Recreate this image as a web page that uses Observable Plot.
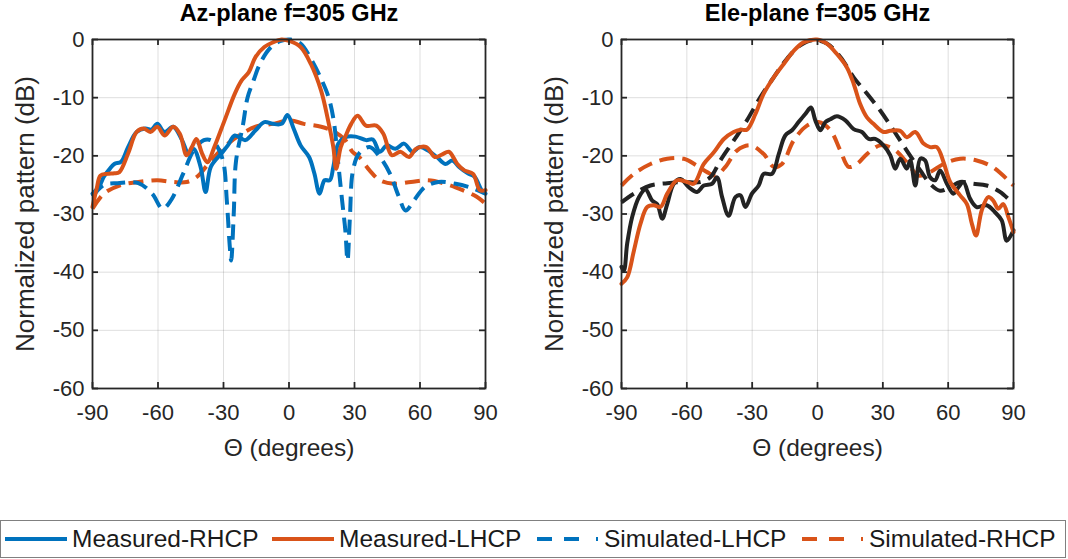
<!DOCTYPE html>
<html>
<head>
<meta charset="utf-8">
<script src="https://cdn.jsdelivr.net/npm/d3@7"></script>
<script src="https://cdn.jsdelivr.net/npm/@observablehq/plot@0.6"></script>
<style>
  html, body { margin: 0; padding: 0; background: #fff; }
  #fig { position: relative; width: 1068px; height: 559px; overflow: hidden; background: #fff;
         font-family: "Liberation Sans", Arial, sans-serif; color: #262626; }
  .panel { position: absolute; top: 0; }
  #legend { position: absolute; left: 0px; top: 520px; width: 1064px; height: 36px;
            border: 1.5px solid #808080; background: #fff; }
  .item { position: absolute; top: 0; height: 36px; display: flex; align-items: center; }
  .item span { font-size: 24.5px; color: #1a1a1a; margin-left: 5px; white-space: nowrap; }
</style>
</head>
<body>
<div id="fig">
  <div id="left" class="panel" style="left:0px"></div>
  <div id="right" class="panel" style="left:534px"></div>
  <div id="legend"></div>
</div>
<script>
// ---- ticks ----
const xTicks = [-90, -60, -30, 0, 30, 60, 90];
const yTicks = [0, -10, -20, -30, -40, -50, -60];

// ---- titles / labels ----
const titles = ["Az-plane f=305 GHz", "Ele-plane f=305 GHz"];
const xLabel = "\u0398 (degrees)";
const yLabel = "Normalized pattern (dB)";
const seriesNames = ["Measured-RHCP", "Measured-LHCP", "Simulated-LHCP", "Simulated-RHCP"];

// ---- Az-plane data [theta, dB] ----
const azMeasRHCP = [[-90,-26.5],[-87,-25.3],[-84.8,-23.6],[-82,-22.2],[-80,-21.4],[-76.9,-21],[-73.7,-18.5],[-69.8,-15.9],[-65.8,-15.3],[-63,-15.5],[-60.3,-14.5],[-57,-15.9],[-53,-15],[-49,-17.3],[-46,-19.6],[-43.7,-18.8],[-40.5,-21.9],[-38.2,-26.2],[-35.8,-21.9],[-31,-19.6],[-28,-18.2],[-24.8,-16.5],[-20,-17.3],[-15.3,-15.6],[-11.3,-14.2],[-7.4,-14.5],[-3.4,-14.5],[-0.7,-13],[2.1,-15.3],[5.3,-18.2],[9.2,-20.2],[11.6,-23],[14,-26.5],[16.3,-24.2],[18.7,-24.2],[20.3,-21.9],[22.6,-17.9],[25.8,-16.8],[30.5,-16.7],[35.3,-17.3],[38.4,-17.2],[41.6,-19.3],[44.8,-18.2],[48.7,-18.8],[52.7,-17.9],[56.6,-19.3],[59.8,-18.5],[63.7,-19.1],[67.7,-20.2],[71.6,-21.4],[74.8,-20.8],[77.9,-21.9],[81.9,-23],[85,-23.6],[88.2,-25.9],[90,-26.5]];
const azMeasLHCP = [[-90,-28.8],[-88,-25.5],[-86.4,-23.4],[-83.2,-23.1],[-80,-23],[-77.7,-22.8],[-73.7,-19.6],[-69.8,-15.9],[-66.6,-15.3],[-63.5,-15.9],[-60.3,-15],[-57,-16.5],[-53,-15],[-50,-16.2],[-46.9,-19.9],[-44.5,-18.5],[-42.4,-17.1],[-39.8,-19.6],[-37.4,-21.1],[-34.2,-18.5],[-29.5,-13.9],[-24.8,-9.3],[-21.6,-7],[-18.4,-5.6],[-15.3,-3],[-11.3,-1.3],[-7.4,-0.5],[-3.4,0],[0.5,-0.3],[5.3,-1.3],[10,-4.2],[14.7,-8.8],[17.9,-13.9],[20.3,-18.5],[21.6,-22.2],[23.7,-18.5],[26,-16.5],[28.5,-14.5],[31.4,-13.1],[35.3,-14.8],[40,-14.8],[43.2,-16.2],[47.1,-19.9],[51,-19.3],[55,-20.2],[58.2,-18.8],[62.9,-18.5],[66.8,-20.2],[70,-19.8],[73.2,-19.3],[77.1,-21.4],[80.3,-22.5],[84.3,-23.1],[87.4,-25.9],[90,-25.9]];
const azSimLHCP = [[-90,-27],[-84.8,-25],[-78.5,-24.7],[-69,-24.7],[-62.7,-26.5],[-57.9,-29.1],[-54,-27.6],[-48.5,-23.1],[-43.7,-19.1],[-39,-17.3],[-35.8,-17.3],[-32.7,-18.5],[-30,-21.2],[-28.5,-27.6],[-27.1,-35.7],[-26.5,-38],[-25.3,-29.9],[-24.3,-21],[-21,-14.5],[-19,-10],[-16,-6.8],[-13.7,-4.5],[-9,-1.6],[-4.2,-0.3],[0.5,0],[5.3,-0.7],[10,-3.3],[15,-7],[18.2,-10],[20.5,-14],[22.2,-20],[24.3,-27.6],[25.8,-32.8],[26.8,-38],[27.9,-30.5],[29.3,-22.5],[32.1,-19.6],[36.9,-18.5],[41.6,-20.2],[46.3,-23.1],[50.3,-27],[53.4,-29.4],[57.4,-27.6],[62.1,-25.4],[68.4,-24.5],[76.3,-24.8],[84.3,-25.6],[90,-26.5]];
const azSimRHCP = [[-90,-29.1],[-84.8,-26.5],[-76.9,-25],[-69,-24.5],[-60.3,-24.2],[-53,-24.5],[-46.9,-24.5],[-42.1,-23.6],[-37.4,-21.6],[-32.7,-19.6],[-27.9,-17.9],[-21.6,-16.2],[-15.3,-15],[-7.4,-14.5],[0.5,-13.9],[6.8,-14.5],[14.7,-15],[21,-15.9],[25.8,-17.3],[29,-19.3],[32.1,-20.2],[36.9,-22.5],[41.6,-24.2],[47.9,-24.8],[55.8,-24.5],[63.7,-24.2],[71.6,-24.8],[79.5,-25.9],[85.8,-27],[90,-28.2]];

// ---- Ele-plane data [theta, dB] ----
const elMeasRHCP = [[-90,-39.1],[-88.9,-39.7],[-87.4,-35.1],[-85.1,-30.5],[-82,-27.1],[-79,-25.8],[-75.9,-27.7],[-73.6,-28.3],[-71.3,-30.8],[-69,-28.3],[-66,-24.8],[-62.9,-24],[-59.1,-25.4],[-55.3,-26.2],[-52.2,-25.1],[-48.4,-24.8],[-46.1,-23.7],[-43.8,-27.1],[-40.8,-30.3],[-37.7,-27.1],[-35.4,-26.8],[-33.1,-28.8],[-30.1,-26.5],[-27,-25.1],[-24.7,-23.1],[-20.9,-23.1],[-17.8,-19.7],[-14.8,-16.5],[-11.7,-15.6],[-8.7,-14.2],[-5.6,-12.8],[-3,-11.7],[-1,-13.9],[1.3,-15.6],[3.6,-14.2],[5.9,-13.7],[8.9,-13.2],[12.8,-13.9],[16.6,-15.4],[20.4,-15.9],[23.5,-17.1],[26.5,-17.1],[30.3,-18.2],[33.4,-19.9],[35.7,-22.2],[38,-20.5],[41,-22.2],[42.6,-20.8],[44.9,-25.1],[47.2,-20.5],[49.4,-20.8],[51.7,-23.7],[54,-24.2],[56.3,-22.5],[59.4,-24.8],[62.4,-26.5],[64.7,-25.4],[67,-24.5],[70.1,-27.4],[73.1,-28.8],[77.7,-28.5],[81.5,-29.7],[84.6,-31.1],[86.9,-34.6],[90,-32.8]];
const elMeasLHCP = [[-90,-42],[-87.4,-40.9],[-84.3,-36.3],[-81.3,-31.7],[-78.2,-28.8],[-75.2,-28.5],[-72.1,-28.8],[-69,-26.5],[-64.5,-24.2],[-59.9,-24.5],[-56.8,-24.8],[-52.2,-21.4],[-47.6,-19.4],[-43,-17.1],[-38.5,-15.9],[-35.4,-15.5],[-32.4,-15.5],[-28.5,-12.8],[-24.7,-9.3],[-20.1,-6.5],[-15.5,-4.2],[-11,-2],[-6.4,-0.5],[-0.2,0],[4.3,-0.7],[8.9,-2.5],[13.5,-4.8],[16.6,-7.6],[19.6,-11.1],[22.7,-13.4],[25.7,-14.5],[30.3,-15.9],[33.4,-15.7],[38,-15.7],[41,-16.8],[44.9,-15.9],[48.7,-17.9],[51.7,-18.5],[54.8,-18.5],[57.9,-21.1],[60.9,-24.5],[65.5,-26.8],[68.6,-28.3],[70.9,-31.7],[72.8,-33.7],[75.4,-29.4],[78.4,-27.1],[80.7,-27.7],[83,-29.1],[85.3,-28.3],[87.6,-30.5],[90,-33.1]];
const elSimLHCP = [[-90,-28],[-84.3,-26.5],[-76.7,-25.1],[-69,-24.7],[-61.4,-24.5],[-53.8,-24.5],[-49.2,-23.7],[-44.6,-20.8],[-38.5,-17.4],[-32.4,-13.9],[-26.2,-9.9],[-20.1,-6.5],[-14,-3.3],[-7.9,-1],[-1.8,-0.1],[4.3,-0.7],[10.5,-3],[16.6,-6.5],[22.7,-9.3],[28.8,-12.2],[34.9,-15.6],[41,-19.1],[47.2,-22.5],[51.7,-24.8],[56.3,-26],[60.9,-25.4],[65.5,-24.5],[71.6,-24.8],[77.7,-25.1],[83.8,-26.2],[90,-28.3]];
const elSimRHCP = [[-90,-25.1],[-84.3,-23.1],[-76.7,-21.4],[-69,-20.5],[-61.4,-20.5],[-55.3,-21.7],[-50.7,-22.8],[-46.9,-23.4],[-42.3,-21.9],[-37,-19.1],[-30.8,-18.2],[-24.7,-19.7],[-20.1,-21.9],[-16.3,-21.4],[-11,-17.4],[-4.8,-14.8],[0.5,-14.2],[5.9,-15.6],[10.5,-19.1],[14.3,-21.9],[18.1,-21.4],[22.7,-19.7],[28.8,-18.2],[34.9,-18.8],[41,-21.1],[46.4,-23.4],[51.7,-22.8],[57.9,-21.4],[65.5,-20.5],[73.1,-20.8],[80.3,-21.9],[90,-25.1]];

// ---- colours ----
const BLUE = "#0072BD", ORANGE = "#D95319", BLACK = "#232323", AXIS = "#262626";

const W = 534, H = 470, MT = 39, MB = 82;
const innerH = H - MT - MB;
const LW = 4, DASH = "15,8";

function panel({title, series, marginLeft, marginRight}) {
  const innerW = W - marginLeft - marginRight;
  const fmt = d => String(d);
  const lines = series.map(s => Plot.line(s.data, {
    x: d => d[0], y: d => d[1], stroke: s.color, strokeWidth: LW,
    strokeDasharray: s.dash ? DASH : null,
    strokeLinecap: s.dash ? "butt" : "round", curve: "catmull-rom"
  }));
  return Plot.plot({
    width: W, height: H, marginLeft, marginRight, marginTop: MT, marginBottom: MB,
    style: {fontFamily: "'Liberation Sans', Arial, sans-serif", fontSize: "22px", color: AXIS, background: "white", overflow: "visible"},
    x: {domain: [-90, 90]},
    y: {domain: [-60, 0]},
    marks: [
      Plot.gridX(xTicks, {stroke: AXIS, strokeOpacity: 0.15, strokeWidth: 1}),
      Plot.gridY(yTicks, {stroke: AXIS, strokeOpacity: 0.15, strokeWidth: 1}),
      ...lines,
      Plot.frame({stroke: AXIS, strokeWidth: 1.8}),
      Plot.tickX(xTicks, {x: d => d, insetTop: innerH - 6, stroke: AXIS, strokeWidth: 1.8}),
      Plot.tickX(xTicks, {x: d => d, insetBottom: innerH - 6, stroke: AXIS, strokeWidth: 1.8}),
      Plot.tickY(yTicks, {y: d => d, insetRight: innerW - 6, stroke: AXIS, strokeWidth: 1.8}),
      Plot.tickY(yTicks, {y: d => d, insetLeft: innerW - 6, stroke: AXIS, strokeWidth: 1.8}),
      Plot.axisX(xTicks, {tickSize: 0, tickPadding: 16, tickFormat: fmt, label: null, fontSize: 22}),
      Plot.axisY(yTicks, {tickSize: 0, tickPadding: 8, tickFormat: fmt, label: null, fontSize: 22}),
      Plot.text([title], {frameAnchor: "top", dy: -26, lineAnchor: "middle", textAnchor: "middle", fontWeight: "bold", fontSize: 23.5, fill: "#000"}),
      Plot.text([xLabel], {frameAnchor: "bottom", dy: 60, lineAnchor: "middle", textAnchor: "middle", fontSize: 24.5, fill: AXIS}),
      Plot.text([yLabel], {frameAnchor: "left", dx: -67, rotate: -90, lineAnchor: "middle", textAnchor: "middle", fontSize: 26, fill: AXIS})
    ]
  });
}

document.getElementById("left").appendChild(panel({
  title: titles[0], marginLeft: 92, marginRight: 49,
  series: [
    {data: azSimRHCP, color: ORANGE, dash: true},
    {data: azSimLHCP, color: BLUE, dash: true},
    {data: azMeasRHCP, color: BLUE},
    {data: azMeasLHCP, color: ORANGE}
  ]
}));
document.getElementById("right").appendChild(panel({
  title: titles[1], marginLeft: 87, marginRight: 55,
  series: [
    {data: elSimRHCP, color: ORANGE, dash: true},
    {data: elSimLHCP, color: BLACK, dash: true},
    {data: elMeasRHCP, color: BLACK},
    {data: elMeasLHCP, color: ORANGE}
  ]
}));

// ---- legend ----
const legendColors = [BLUE, ORANGE, BLUE, ORANGE];
const legendDash = [false, false, true, true];
const legendX = [4, 271, 536, 801];
const legend = document.getElementById("legend");
seriesNames.forEach((name, i) => {
  const item = document.createElement("div");
  item.className = "item";
  item.style.left = legendX[i] + "px";
  const ns = "http://www.w3.org/2000/svg";
  const svg = document.createElementNS(ns, "svg");
  svg.setAttribute("width", 62); svg.setAttribute("height", 10);
  const ln = document.createElementNS(ns, "line");
  ln.setAttribute("x1", 0); ln.setAttribute("x2", 62); ln.setAttribute("y1", 5); ln.setAttribute("y2", 5);
  ln.setAttribute("stroke", legendColors[i]); ln.setAttribute("stroke-width", LW);
  if (legendDash[i]) ln.setAttribute("stroke-dasharray", "15,12,15,17,2,20");
  svg.appendChild(ln);
  const sp = document.createElement("span");
  sp.textContent = name;
  item.appendChild(svg); item.appendChild(sp);
  legend.appendChild(item);
});
</script>
</body>
</html>
